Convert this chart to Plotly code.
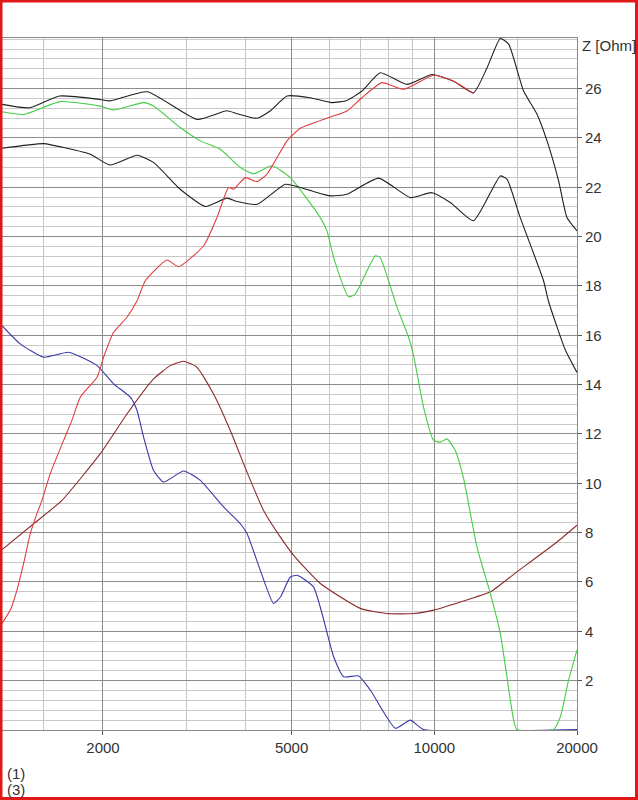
import plotly.graph_objs as go

# frequency (Hz) / impedance (Ohm) readings for each curve
freq_black_top = [1225, 1400, 1620, 1970, 2070, 2480, 3160, 3650, 3840, 4230, 4510, 4890, 5470, 6080, 6540,
                  7040, 7690, 8760, 9890, 10980, 12100, 12920, 13780, 14350, 15430, 16470, 17290, 18290, 19050, 20000]
z_black_top = [25.36, 25.22, 25.7, 25.56, 25.5, 25.87, 24.75, 25.1, 24.98, 24.8, 25.1, 25.7, 25.63, 25.43, 25.52,
               25.9, 26.64, 26.17, 26.57, 26.3, 25.83, 26.84, 28.03, 27.8, 25.9, 24.96, 23.88, 22.26, 20.77, 20.23]

freq_black_mid = [1225, 1500, 1680, 1880, 2070, 2360, 2560, 2910, 3290, 3650, 3840, 4230, 4850, 5220, 5560, 6040,
                  6540, 7630, 8900, 9890, 10810, 12100, 13780, 14230, 15180, 17000, 17400, 18900, 20000]
z_black_mid = [23.58, 23.77, 23.58, 23.34, 22.9, 23.3, 23.0, 21.92, 21.22, 21.56, 21.42, 21.31, 22.12, 21.99, 21.83,
               21.65, 21.72, 22.37, 21.58, 21.78, 21.38, 20.64, 22.46, 22.33, 20.77, 18.21, 17.4, 15.4, 14.49]

freq_green = [1225, 1360, 1625, 1974, 2106, 2436, 2557, 2911, 3209, 3535, 3898, 4157, 4546, 4969, 5748, 5937,
              6132, 6595, 6812, 7507, 7690, 8344, 8826, 9043, 9493, 9966, 10300, 10640, 11070, 11530, 12300,
              13130, 13780, 14700, 14940, 17850, 18450, 19200, 20000]
z_green = [25.06, 24.95, 25.47, 25.29, 25.13, 25.43, 25.29, 24.42, 23.88, 23.54, 22.8, 22.55, 22.87, 22.39, 20.77,
           20.23, 19.15, 17.56, 17.67, 19.22, 19.15, 17.13, 15.92, 15.18, 13.08, 11.74, 11.67, 11.8, 11.33, 10.19,
           7.42, 5.53, 3.91, 0.4, 0.02, 0.02, 0.54, 2.02, 3.24]

freq_red = [1225, 1275, 1317, 1360, 1405, 1451, 1487, 1548, 1652, 1720, 1791, 1943, 2006, 2106, 2247, 2360, 2457,
            2729, 2888, 3262, 3479, 3681, 3772, 3993, 4226, 4436, 4890, 5218, 5937, 6542, 7036, 7756, 8614,
            9966, 10980, 12100]
z_red = [4.32, 4.86, 5.67, 6.75, 7.96, 8.77, 9.31, 10.39, 11.74, 12.55, 13.49, 14.3, 15.11, 16.12, 16.73, 17.4,
         18.21, 19.05, 18.78, 19.63, 20.77, 21.99, 21.92, 22.39, 22.23, 22.53, 23.88, 24.39, 24.8, 25.09, 25.63,
         26.24, 25.97, 26.54, 26.3, 25.8]

freq_maroon = [1225, 1428, 1639, 1974, 2247, 2557, 2773, 2959, 3158, 3422, 3712, 4026, 4363, 4735, 5050, 5748,
               6980, 7947, 9043, 9966, 11350, 13130, 14940, 18150, 20000]
z_maroon = [7.31, 8.36, 9.31, 11.2, 12.81, 14.23, 14.77, 14.95, 14.7, 13.62, 12.14, 10.45, 8.9, 7.82, 7.08, 5.94,
            4.93, 4.72, 4.72, 4.86, 5.19, 5.6, 6.41, 7.62, 8.3]

freq_blue = [1225, 1338, 1500, 1693, 1943, 2106, 2284, 2360, 2436, 2557, 2685, 2959, 3209, 3593, 3898, 4026, 4295,
             4581, 4735, 4969, 5134, 5560, 6132, 6437, 6924, 7328, 8275, 8900, 9493, 20000]
z_blue = [16.39, 15.65, 15.11, 15.31, 14.77, 14.03, 13.49, 12.95, 11.87, 10.52, 10.05, 10.5, 10.12, 9.04, 8.36, 7.96,
          6.47, 5.13, 5.39, 6.2, 6.27, 5.8, 2.97, 2.16, 2.19, 1.62, 0.07, 0.4, 0.02, 0.02]

x_labels = [2000, 5000, 10000, 20000]
x_minor = [1500, 3000, 4000, 6000, 7000, 8000, 9000, 15000]
y_labels = [2, 4, 6, 8, 10, 12, 14, 16, 18, 20, 22, 24, 26]

curves = [
    (freq_maroon, z_maroon, '#8c2a2a'),
    (freq_blue, z_blue, '#3838a8'),
    (freq_green, z_green, '#44cc44'),
    (freq_black_mid, z_black_mid, '#202020'),
    (freq_black_top, z_black_top, '#202020'),
    (freq_red, z_red, '#e03c3c'),
]

data = [go.Scatter(x=f, y=z, mode='lines',
                   line=dict(color=c, width=1.1, shape='spline', smoothing=0.5),
                   hoverinfo='skip', showlegend=False) for f, z, c in curves]

# plot area: x 2..577, y 38..730 px
L, R, T, B = 2, 61, 38, 70
pw, ph = 638 - L - R, 800 - T - B

layout = go.Layout(
    width=638, height=800,
    margin=dict(l=L, r=R, t=T, b=B),
    paper_bgcolor='white', plot_bgcolor='white',
    font=dict(family='Liberation Sans, Arial, sans-serif', size=15, color='#333333'),
    xaxis=dict(
        type='log', range=[3.088, 4.30103],
        tickvals=x_labels, ticktext=[str(v) for v in x_labels],
        ticks='outside', ticklen=4, tickcolor='#555555',
        showgrid=True, gridcolor='#8c8c8c', gridwidth=1,
        minor=dict(tickvals=x_minor, showgrid=True, gridcolor='#c4c4c4', ticks=''),
        showline=True, linecolor='#888888', mirror=True,
        zeroline=False,
    ),
    yaxis=dict(
        range=[0, 28.05], side='right',
        tickvals=y_labels,
        ticks='outside', ticklen=4, tickcolor='#555555',
        showgrid=True, gridcolor='#8c8c8c', gridwidth=1,
        minor=dict(dtick=0.4, tick0=0, showgrid=True, gridcolor='#c8c8c8', ticks=''),
        showline=True, linecolor='#888888', mirror=True,
        zeroline=False,
    ),
    annotations=[
        dict(text='Z [Ohm]', xref='paper', yref='paper', x=1.0 + 3 / pw, y=1.0 - 7 / ph,
             xanchor='left', yanchor='middle', showarrow=False),
        dict(text='(1)', xref='paper', yref='paper', x=3 / pw, y=-(773 - 730) / ph,
             xanchor='left', yanchor='middle', showarrow=False),
        dict(text='(3)', xref='paper', yref='paper', x=3 / pw, y=-(790 - 730) / ph,
             xanchor='left', yanchor='middle', showarrow=False),
    ],
    shapes=[
        dict(type='rect', xref='paper', yref='paper', layer='above',
             x0=(1 - L) / pw, x1=(636.5 - L) / pw, y0=-(798.5 - 730) / ph, y1=(730 - 1) / ph,
             line=dict(color='#e01818', width=3)),
    ],
)

fig = go.Figure(data=data, layout=layout)
# drop the page's default body margin so the figure sits at the window corner
fig.write_html("out.html", config={'displayModeBar': False},
               post_script="document.body.style.margin='0';document.body.style.overflow='hidden';")
